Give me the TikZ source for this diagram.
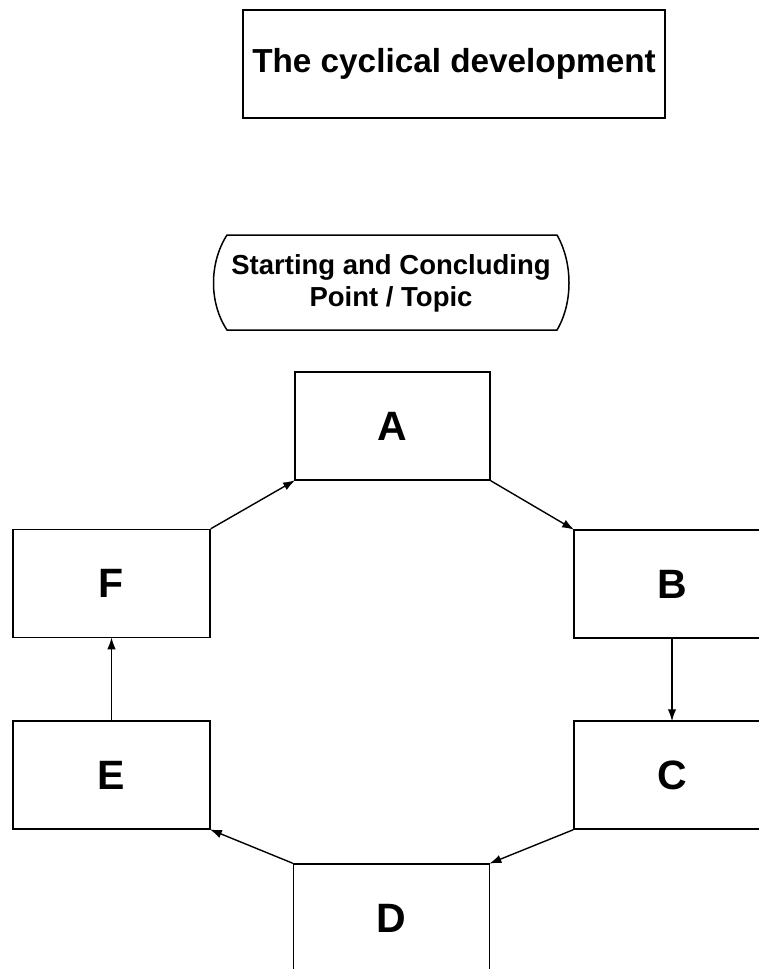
\documentclass[tikz,border=0pt]{standalone}
\usepackage{fontspec}
\setmainfont{Liberation Sans}
\usetikzlibrary{arrows.meta}
\begin{document}
\begin{tikzpicture}[x=1pt,y=-1pt,
  line width=1.5pt,
  stagebox/.style={draw, minimum width=196pt, minimum height=108pt, inner sep=0pt,
     font=\fontsize{41}{44}\selectfont\bfseries},
  titlebox/.style={draw, minimum width=422pt, minimum height=108pt, inner sep=0pt,
     font=\fontsize{33.3}{38}\selectfont\bfseries},
  termtext/.style={align=center, inner sep=0pt,
     font=\fontsize{27.5}{32}\selectfont\bfseries},
  flow/.style={-{Latex[length=12pt,width=8.5pt]}, line width=1.4pt, shorten >=-1pt}
]
\useasboundingbox (0,0) rectangle (758,969);
\node[titlebox] (title) at (454,64) {The cyclical development};

\node[termtext] (start) at (391,283) {Starting and Concluding\\Point / Topic};
\draw ([shift={(-164,-48)}]start.center) -- ([shift={(166,-48)}]start.center)
   .. controls ([shift={(182,-20)}]start.center) and ([shift={(182,20)}]start.center) .. ([shift={(166,47)}]start.center)
   -- ([shift={(-164,47)}]start.center)
   .. controls ([shift={(-182,20)}]start.center) and ([shift={(-182,-20)}]start.center) .. cycle;

\node[stagebox, minimum width=195pt] (A) at (392.5,426) {A};
\node[stagebox] (B) at (672,584) {B};
\node[stagebox] (C) at (672,775) {C};
\node[stagebox] (D) at (391.5,918) {D};
\node[stagebox, minimum width=197pt] (E) at (111.5,775) {E};
\node[stagebox, minimum width=197pt] (F) at (111.5,583.5) {F};

\draw[flow] (A.south east) -- (B.north west);
\draw[flow] (B.south) -- (C.north);
\draw[flow] (C.south west) -- (D.north east);
\draw[flow] (D.north west) -- (E.south east);
\draw[flow] (E.north) -- (F.south);
\draw[flow] (F.north east) -- (A.south west);
\end{tikzpicture}
\end{document}
